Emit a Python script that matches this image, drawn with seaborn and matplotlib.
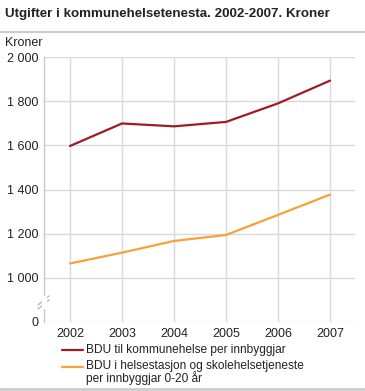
import matplotlib
matplotlib.use("Agg")
import matplotlib.pyplot as plt
import seaborn as sns
import pandas as pd

years = [2002, 2003, 2004, 2005, 2006, 2007]
bdu_kommunehelse = [1597, 1699, 1686, 1706, 1790, 1893]
bdu_helsestasjon = [1065, 1114, 1167, 1194, 1285, 1377]
series_names = ["BDU til kommunehelse per innbyggjar",
                "BDU i helsestasjon og skolehelsetjeneste\nper innbyggjar 0-20 år"]
ytick_values = [800, 1000, 1200, 1400, 1600, 1800, 2000]
ytick_labels = ["0", "1 000", "1 200", "1 400", "1 600", "1 800", "2 000"]

df = pd.DataFrame({
    "year": years * 2,
    "value": bdu_kommunehelse + bdu_helsestasjon,
    "series": [series_names[0]] * 6 + [series_names[1]] * 6,
})

sns.set_theme(style="white")
plt.rcParams['font.family'] = ['Liberation Sans', 'DejaVu Sans']

fig = plt.figure(figsize=(3.65, 3.91), dpi=100)
ax = fig.add_axes([44/365, 1-322/391, (355-44)/365, (322-57)/391])

colors = ["#9e1c22", "#f7a239"]
sns.lineplot(data=df, x="year", y="value", hue="series",
             palette=colors, linewidth=1.6, ax=ax, legend=False)

ax.set_xlim(2001.5, 2007.48)
ax.set_ylim(800, 2000)
ax.set_xticks(years)
ax.set_xticklabels([str(y) for y in years], fontsize=9, color="#222222")
ax.set_yticks(ytick_values)
ax.set_yticklabels(ytick_labels, fontsize=9, color="#222222")
ax.set_xlabel("")
ax.set_ylabel("")
ax.grid(True, color="#d8d8de", linewidth=1)
ax.set_axisbelow(True)
for s in ["top", "right", "bottom"]:
    ax.spines[s].set_visible(False)
ax.spines["left"].set_color("#c8c8cc")
ax.spines["left"].set_linewidth(1)
ax.tick_params(axis="both", length=0, pad=4)

# axis break marks
for dy in (0, 4):
    fig.add_artist(plt.Line2D([38/365, 49/365], [1-(305+dy)/391, 1-(296+dy)/391],
                              color="#bbbbbb", linewidth=1))
fig.add_artist(plt.Rectangle((42/365, 1-308/391), 4/365, 12/391, color="white", zorder=5))

fig.text(5/365, 1-14/391, "Utgifter i kommunehelsetenesta. 2002-2007. Kroner",
         fontsize=9.6, fontweight="bold", color="#222222", va="center")
fig.add_artist(plt.Line2D([0, 1], [1-32/391, 1-32/391], color="#cccccc", linewidth=1.5))
fig.add_artist(plt.Line2D([0, 1], [1-389/391, 1-389/391], color="#cccccc", linewidth=2))
fig.text(5/365, 1-43/391, "Kroner", fontsize=9, color="#222222", va="center")

# legend
fig.add_artist(plt.Line2D([62/365, 83/365], [1-350/391, 1-350/391], color=colors[0], linewidth=1.6))
fig.text(86/365, 1-350/391, series_names[0], fontsize=8.6, color="#222222", va="center")
fig.add_artist(plt.Line2D([62/365, 83/365], [1-367/391, 1-367/391], color=colors[1], linewidth=1.6))
fig.text(86/365, 1-360/391, series_names[1], fontsize=8.6, color="#222222", va="top",
         linespacing=0.95)

fig.savefig("out.png", dpi=100)
